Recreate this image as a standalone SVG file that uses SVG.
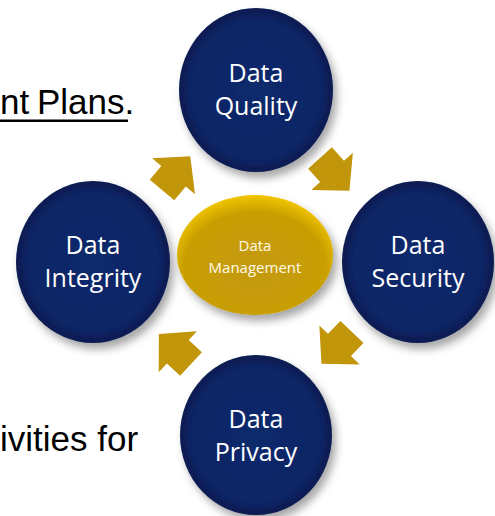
<svg xmlns="http://www.w3.org/2000/svg" width="495" height="516" viewBox="0 0 495 516">
  <defs>
    <radialGradient id="navy" cx="50%" cy="50%" r="50%">
      <stop offset="0%" stop-color="#0f2a6c"/>
      <stop offset="85%" stop-color="#0c2565"/>
      <stop offset="100%" stop-color="#081b50"/>
    </radialGradient>
    <radialGradient id="gold" cx="50%" cy="58%" r="58%" fx="50%" fy="65%">
      <stop offset="0%" stop-color="#c49a08"/>
      <stop offset="78%" stop-color="#c89e06"/>
      <stop offset="100%" stop-color="#f2c600"/>
    </radialGradient>
    <filter id="shadow" x="-20%" y="-20%" width="150%" height="150%">
      <feDropShadow dx="4" dy="6" stdDeviation="4" flood-color="#000" flood-opacity="0.35"/>
    </filter>
    <polygon id="arrow" points="0,-16 18,-16 18,-28 44,0 18,28 18,16 0,16"/>
  </defs>
  <style>
    .circle { fill: url(#navy); filter: url(#shadow); }
    .hub { fill: url(#gold); filter: url(#shadow); }
    .label { font-family: "Open Sans", "Noto Sans", sans-serif; font-size: 25px; fill: #ffffff; text-anchor: middle; }
    .hubLabel { font-family: "Open Sans", "Noto Sans", sans-serif; font-size: 15px; fill: #fffbe6; text-anchor: middle; }
    .body { font-family: "Liberation Sans", Arial, sans-serif; font-size: 35px; fill: #000000; }
    .arrow { fill: #c1960b; }
  </style>
  <rect width="495" height="516" fill="#ffffff"/>

  <text class="body" x="0" y="114" word-spacing="-2">nt Plans.</text>
  <rect x="0" y="119.5" width="128" height="2.5" fill="#000000"/>
  <text class="body" x="0" y="451">ivities for</text>

  <g id="connectors">
    <use href="#arrow" class="arrow" transform="translate(162,190) rotate(-50)"/>
    <use href="#arrow" class="arrow" transform="translate(320,158) rotate(48)"/>
    <use href="#arrow" class="arrow" transform="translate(352,332) rotate(134)"/>
    <use href="#arrow" class="arrow" transform="translate(191,364) rotate(-137)"/>
  </g>

  <g id="data-quality">
    <ellipse class="circle" cx="256" cy="90" rx="77" ry="82"/>
    <text class="label" x="256" y="82">Data</text>
    <text class="label" x="256" y="115">Quality</text>
  </g>
  <g id="data-integrity">
    <ellipse class="circle" cx="93" cy="262" rx="77" ry="81"/>
    <text class="label" x="93" y="254">Data</text>
    <text class="label" x="93" y="287">Integrity</text>
  </g>
  <g id="data-security">
    <ellipse class="circle" cx="418" cy="262" rx="76" ry="81"/>
    <text class="label" x="418" y="254">Data</text>
    <text class="label" x="418" y="287">Security</text>
  </g>
  <g id="data-privacy">
    <ellipse class="circle" cx="256" cy="435" rx="76" ry="80"/>
    <text class="label" x="256" y="428">Data</text>
    <text class="label" x="256" y="461">Privacy</text>
  </g>
  <g id="data-management">
    <ellipse class="hub" cx="255" cy="255" rx="78" ry="60"/>
    <text class="hubLabel" x="255" y="251">Data</text>
    <text class="hubLabel" x="255" y="273">Management</text>
  </g>
</svg>
